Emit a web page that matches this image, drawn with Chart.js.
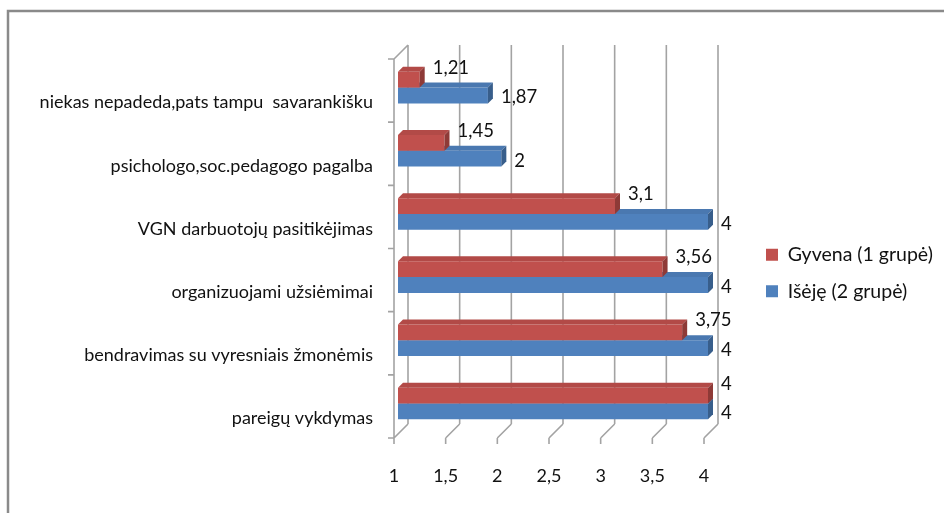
<!DOCTYPE html>
<html>
<head>
<meta charset="utf-8">
<script src="https://cdn.jsdelivr.net/npm/chart.js@4.4.1/dist/chart.umd.min.js"></script>
<style>
  html, body { margin: 0; padding: 0; background: #fff; }
  #wrap { position: relative; width: 944px; height: 513px; }
</style>
</head>
<body>
<div id="wrap"><canvas id="c"></canvas></div>
<script>
// ---- data ----
const categories = [
  'niekas nepadeda,pats tampu  savarankišku',
  'psichologo,soc.pedagogo pagalba',
  'VGN darbuotojų pasitikėjimas',
  'organizuojami užsiėmimai',
  'bendravimas su vyresniais žmonėmis',
  'pareigų vykdymas'
];
const seriesNames = ['Gyvena (1 grupė)', 'Išėję (2 grupė)'];
const gyvenaValues = [1.21, 1.45, 3.1, 3.56, 3.75, 4];
const isejeValues = [1.87, 2, 4, 4, 4, 4];
const xTickValues = [1, 1.5, 2, 2.5, 3, 3.5, 4];

// ---- styles ----
const frontColors = ['#C0504D', '#4F81BD'];
const topColors = ['#B24A47', '#4A78B0'];
const sideColors = ['#8E3A37', '#385E8B'];
const FONT = 'Lato';
const TXT = '#111111';
const GRID = '#A3A3A3';
const DX = 5, DY = 5;          // bar depth
const WBX = 10, WBY = -11;     // back wall offset from bar plane
const WFX = -4, WFY = 3;       // front plane offset from bar plane
const LEG_FONT = 19.5;
const LEG_PAD = 36.5 - LEG_FONT;

const fmt = v => String(v).replace('.', ',');

const framePlugin = {
  id: 'frame',
  beforeDraw(chart) {
    const ctx = chart.ctx;
    ctx.save();
    ctx.fillStyle = '#fff';
    ctx.fillRect(0, 0, chart.width, chart.height);
    ctx.strokeStyle = '#8A8A8A';
    ctx.lineWidth = 2.5;
    ctx.beginPath();
    ctx.moveTo(8, chart.height);
    ctx.lineTo(8, 11);
    ctx.lineTo(chart.width, 11);
    ctx.stroke();
    ctx.restore();
  }
};

const wallPlugin = {
  id: 'walls',
  beforeDatasetsDraw(chart) {
    const ctx = chart.ctx;
    const xs = chart.scales.x, ys = chart.scales.y;
    const area = chart.chartArea;
    ctx.save();
    ctx.strokeStyle = GRID;
    ctx.lineWidth = 1.6;
    const topBack = area.top + WBY;
    const botBack = area.bottom + WBY;
    const topFront = area.top + WFY;
    const botFront = area.bottom + WFY;
    ctx.beginPath();
    xs.ticks.forEach(t => {
      const px = xs.getPixelForValue(t.value);
      ctx.moveTo(px + WBX, topBack);
      ctx.lineTo(px + WBX, botBack);
      ctx.moveTo(px + WFX, botFront);
      ctx.lineTo(px + WBX, botBack);
      ctx.moveTo(px + WFX, botFront);
      ctx.lineTo(px + WFX, botFront + 6);
    });
    const x0 = xs.getPixelForValue(xs.min);
    ctx.moveTo(x0 + WFX, botFront);
    ctx.lineTo(x0 + WFX, topFront);
    ctx.lineTo(x0 + WBX, topBack);
    const band = ys.getPixelForValue(1) - ys.getPixelForValue(0);
    for (let i = 0; i <= categories.length; i++) {
      const py = ys.getPixelForValue(0) - band / 2 + i * band + WFY;
      ctx.moveTo(x0 + WFX - 6, py);
      ctx.lineTo(x0 + WFX, py);
    }
    ctx.stroke();
    ctx.restore();
  }
};

const bar3dPlugin = {
  id: 'bar3d',
  afterDatasetDraw(chart, args) {
    const ctx = chart.ctx;
    const di = args.index;
    const meta = args.meta;
    ctx.save();
    meta.data.forEach(el => {
      const p = el.getProps(['x', 'y', 'base', 'height'], true);
      const top = p.y - p.height / 2, bot = p.y + p.height / 2;
      const l = Math.max(p.base, chart.chartArea.left), r = p.x;
      ctx.fillStyle = topColors[di];
      ctx.beginPath();
      ctx.moveTo(l, top);
      ctx.lineTo(r, top);
      ctx.lineTo(r + DX, top - DY);
      ctx.lineTo(l + DX, top - DY);
      ctx.closePath();
      ctx.fill();
      ctx.fillStyle = sideColors[di];
      ctx.beginPath();
      ctx.moveTo(r, top);
      ctx.lineTo(r + DX, top - DY);
      ctx.lineTo(r + DX, bot - DY);
      ctx.lineTo(r, bot);
      ctx.closePath();
      ctx.fill();
    });
    ctx.restore();
  }
};

const labelPlugin = {
  id: 'valueLabels',
  afterDatasetsDraw(chart) {
    const ctx = chart.ctx;
    ctx.save();
    ctx.font = '18.5px ' + FONT;
    ctx.fillStyle = TXT;
    ctx.textAlign = 'left';
    ctx.textBaseline = 'middle';
    chart.data.datasets.forEach((ds, di) => {
      const meta = chart.getDatasetMeta(di);
      meta.data.forEach((el, i) => {
        const p = el.getProps(['x', 'y', 'height'], true);
        const y = di === 0 ? p.y - p.height / 2 - 4 : p.y + 2;
        ctx.fillText(fmt(ds.data[i]), p.x + 13, y);
      });
    });
    ctx.restore();
  }
};

const state = { spacer: 40, padRight: 10 };

const chart = new Chart(document.getElementById('c'), {
  type: 'bar',
  data: {
    labels: categories,
    datasets: [
      { label: seriesNames[0], data: gyvenaValues, base: 1, backgroundColor: frontColors[0], borderWidth: 0 },
      { label: seriesNames[1], data: isejeValues, base: 1, backgroundColor: frontColors[1], borderWidth: 0 }
    ]
  },
  options: {
    indexAxis: 'y',
    responsive: true,
    maintainAspectRatio: false,
    animation: false,
    devicePixelRatio: 1,
    datasets: { bar: { categoryPercentage: 0.5, barPercentage: 1.0 } },
    layout: { padding: { left: 0, top: 56, right: state.padRight, bottom: 23 } },
    scales: {
      x: {
        type: 'linear', min: 1, max: 4,
        afterBuildTicks: s => { s.ticks = xTickValues.map(v => ({ value: v })); },
        afterFit: s => { s.height = 55; },
        grid: { display: false, drawTicks: false },
        border: { display: false },
        ticks: { padding: 30, labelOffset: -4, color: TXT, font: { family: FONT, size: 18 }, callback: v => fmt(v) }
      },
      y: {
        type: 'category',
        afterFit: s => { s.width = 398; },
        grid: { display: false, drawTicks: false },
        border: { display: false },
        ticks: { padding: 25, labelOffset: 15, color: TXT, font: { family: FONT, size: 18 } }
      },
      spacer: {
        type: 'category', axis: 'y', position: 'right',
        afterFit: s => { s.width = state.spacer; },
        grid: { display: false, drawTicks: false },
        border: { display: false },
        ticks: { display: false }
      }
    },
    plugins: {
      legend: {
        position: 'right',
        align: 'center',
        maxWidth: 400,
        labels: { boxWidth: 12, boxHeight: 12, padding: LEG_PAD, color: TXT, font: { family: FONT, size: LEG_FONT } }
      },
      tooltip: { enabled: false }
    }
  },
  plugins: [framePlugin, wallPlugin, bar3dPlugin, labelPlugin]
});

// fine-tune layout so the legend box starts at x=766 and the plot ends at x=708
for (let k = 0; k < 3; k++) {
  const boxX = chart.legend.left + LEG_PAD;
  const dBox = boxX - 766;
  state.padRight = Math.max(0, state.padRight + dBox);
  chart.options.layout.padding.right = state.padRight;
  chart.update();
  const dArea = chart.chartArea.right - 708;
  state.spacer = Math.max(0, state.spacer + dArea);
  chart.update();
}
</script>
</body>
</html>
